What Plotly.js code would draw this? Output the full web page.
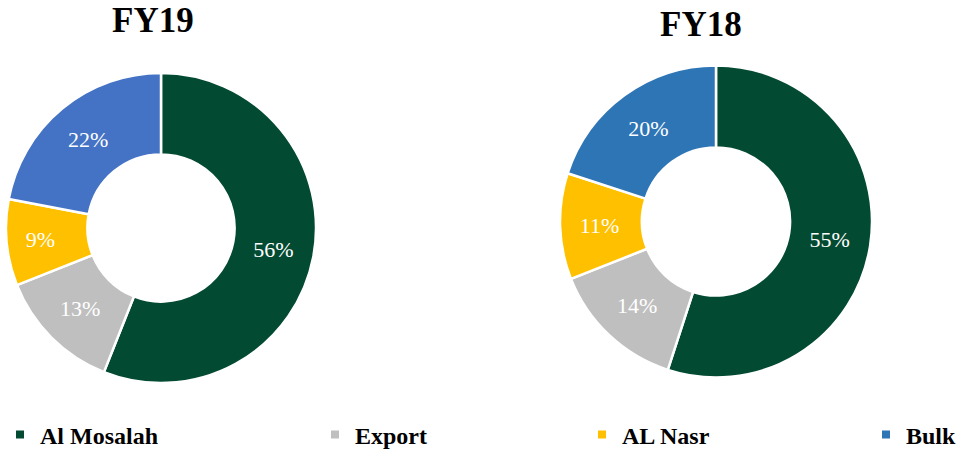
<!DOCTYPE html>
<html>
<head>
<meta charset="utf-8">
<script src="https://cdn.plot.ly/plotly-3.0.1.min.js"></script>
<style>html,body{margin:0;padding:0;background:#fff;}#chart{width:963px;height:449px;}</style>
</head>
<body>
<div id="chart"></div>
<script>
const categories = ["Al Mosalah", "Export", "AL Nasr", "Bulk"];
const fy19Values = [56, 13, 9, 22];
const fy18Values = [55, 14, 11, 20];
const chartTitles = ["FY19", "FY18"];
const fy19Colors = ["#034a32", "#bfbfbf", "#ffc000", "#4472c4"];
const fy18Colors = ["#034a32", "#bfbfbf", "#ffc000", "#2e75b6"];

const W = 963, H = 449;
const serif = "Liberation Serif";

function pie(values, colors, x0, x1, yTop, yBot) {
  const f = {family: serif, size: 22, color: "#ffffff"};
  return {
    type: "pie",
    labels: categories,
    values: values,
    sort: false,
    direction: "clockwise",
    rotation: 0,
    hole: 0.475,
    marker: {colors: colors, line: {color: "#ffffff", width: 2.5}},
    textinfo: "percent",
    textposition: "inside",
    insidetextorientation: "horizontal",
    textfont: f,
    insidetextfont: f,
    showlegend: false,
    domain: {x: [x0 / W, x1 / W], y: [(H - yBot) / H, (H - yTop) / H]}
  };
}

const traces = [
  pie(fy19Values, fy19Colors, 6, 316, 73, 383),
  pie(fy18Values, fy18Colors, 560, 872, 65.5, 377.5)
];

const legendNames = ["legend", "legend2", "legend3", "legend4"];
const legendMarkerX = [18, 335, 602, 886];
const legendColors = ["#034a32", "#bfbfbf", "#ffc000", "#2e75b6"];

categories.forEach((c, i) => {
  traces.push({
    type: "scatter", mode: "markers", x: [null], y: [null],
    name: c, showlegend: true, legend: legendNames[i],
    marker: {symbol: "square", size: 8, color: legendColors[i]},
    hoverinfo: "skip"
  });
});

const layout = {
  width: W, height: H,
  font: {family: serif, color: "#000000"},
  margin: {l: 0, r: 0, t: 0, b: 0, autoexpand: false},
  paper_bgcolor: "#ffffff",
  plot_bgcolor: "#ffffff",
  xaxis: {visible: false},
  yaxis: {visible: false},
  annotations: [
    {text: chartTitles[0], x: 153 / W, y: (H - 21) / H, xref: "paper", yref: "paper",
     xanchor: "center", yanchor: "middle", showarrow: false,
     font: {family: serif, size: 35, color: "#000000", weight: "bold"}},
    {text: chartTitles[1], x: 701 / W, y: (H - 24) / H, xref: "paper", yref: "paper",
     xanchor: "center", yanchor: "middle", showarrow: false,
     font: {family: serif, size: 35, color: "#000000", weight: "bold"}}
  ]
};

legendNames.forEach((ln, i) => {
  layout[ln] = {
    orientation: "h",
    xref: "container", yref: "container",
    x: (legendMarkerX[i] - 20) / W, xanchor: "left",
    y: (H - 435) / H, yanchor: "middle",
    bgcolor: "rgba(0,0,0,0)",
    font: {family: serif, size: 24, color: "#000000", weight: "bold"}
  };
});

Plotly.newPlot("chart", traces, layout, {displayModeBar: false, staticPlot: true});
</script>
</body>
</html>
